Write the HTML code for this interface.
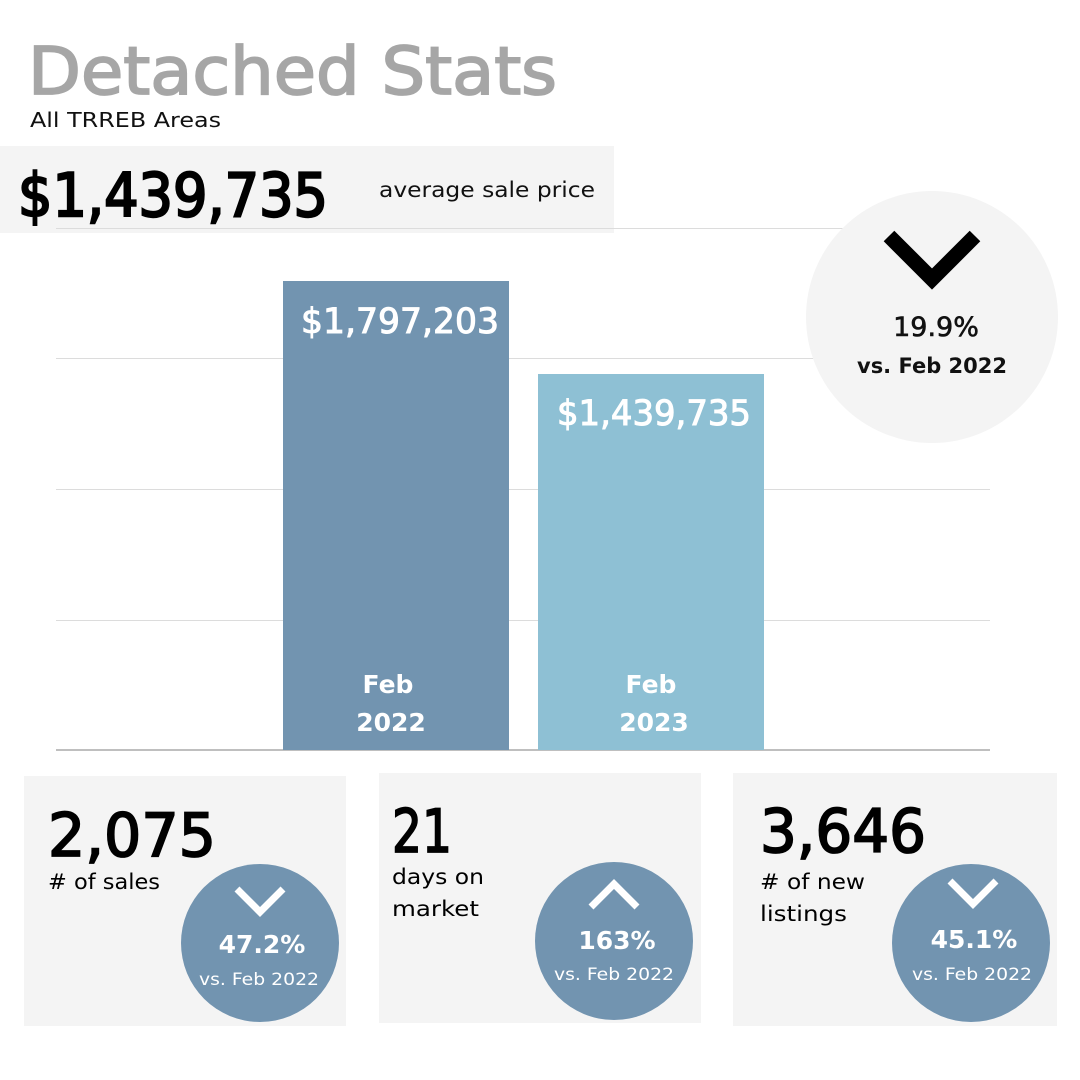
<!DOCTYPE html>
<html><head><meta charset="utf-8"><style>
html,body{margin:0;padding:0;background:#fff}
svg{display:block}
text{font-family:"DejaVu Sans","Liberation Sans",sans-serif}
</style></head><body>
<svg width="1080" height="1080" viewBox="0 0 1080 1080" xmlns="http://www.w3.org/2000/svg">
<rect width="1080" height="1080" fill="#fff"/>
<text x="28" y="94" font-size="66" fill="#a6a6a6" stroke="#a6a6a6" stroke-width="1.8" textLength="529" lengthAdjust="spacingAndGlyphs">Detached Stats</text>
<text x="30" y="127" font-size="20" fill="#111" textLength="191" lengthAdjust="spacingAndGlyphs">All TRREB Areas</text>
<rect x="0" y="146" width="614" height="87" fill="#f4f4f4"/>
<text x="18" y="216" font-size="60" fill="#000" stroke="#000" stroke-width="2.4" textLength="310" lengthAdjust="spacingAndGlyphs">$1,439,735</text>
<text x="379" y="197" font-size="21" fill="#111" textLength="216" lengthAdjust="spacingAndGlyphs">average sale price</text>
<g stroke="#dcdcdc" stroke-width="1">
<line x1="56" y1="228.5" x2="990" y2="228.5"/>
<line x1="56" y1="358.5" x2="990" y2="358.5"/>
<line x1="56" y1="489.5" x2="990" y2="489.5"/>
<line x1="56" y1="620.5" x2="990" y2="620.5"/>
</g>
<line x1="56" y1="750" x2="990" y2="750" stroke="#aaa" stroke-width="1.5"/>
<rect x="283" y="281" width="226" height="469" fill="#7294b0"/>
<rect x="538" y="374" width="226" height="376" fill="#8ec0d4"/>
<g fill="#fff" text-anchor="middle">
<text x="400" y="333" font-size="35" stroke="#fff" stroke-width="1" textLength="198" lengthAdjust="spacingAndGlyphs">$1,797,203</text>
<text x="654" y="425" font-size="35" stroke="#fff" stroke-width="1" textLength="194" lengthAdjust="spacingAndGlyphs">$1,439,735</text>
<text x="388" y="693" font-size="25" font-weight="bold">Feb</text>
<text x="391" y="731" font-size="25" font-weight="bold">2022</text>
<text x="651" y="693" font-size="25" font-weight="bold">Feb</text>
<text x="654" y="731" font-size="25" font-weight="bold">2023</text>
</g>
<circle cx="932" cy="317" r="126" fill="#f4f4f4"/>
<polyline points="889,236 932,279 975,236" fill="none" stroke="#000" stroke-width="15"/>
<text x="936" y="336" font-size="27" text-anchor="middle" fill="#111" stroke="#111" stroke-width="0.6">19.9%</text>
<text x="932" y="373" font-size="21" text-anchor="middle" fill="#111" font-weight="bold" textLength="150" lengthAdjust="spacingAndGlyphs">vs. Feb 2022</text>
<rect x="24" y="776" width="322" height="250" fill="#f4f4f4"/>
<rect x="379" y="773" width="322" height="250" fill="#f4f4f4"/>
<rect x="733" y="773" width="324" height="253" fill="#f4f4f4"/>
<g fill="#000">
<g stroke="#000" stroke-width="1.8">
<text x="48" y="856" font-size="60" textLength="168" lengthAdjust="spacingAndGlyphs">2,075</text>
<text x="392" y="852" font-size="60" textLength="60" lengthAdjust="spacingAndGlyphs">21</text>
<text x="760" y="852" font-size="60" textLength="166" lengthAdjust="spacingAndGlyphs">3,646</text>
</g>
<text x="48" y="889" font-size="21" textLength="112" lengthAdjust="spacingAndGlyphs"># of sales</text>
<text x="392" y="884" font-size="21" textLength="92" lengthAdjust="spacingAndGlyphs">days on</text>
<text x="392" y="916" font-size="21" textLength="87" lengthAdjust="spacingAndGlyphs">market</text>
<text x="760" y="889" font-size="21" textLength="105" lengthAdjust="spacingAndGlyphs"># of new</text>
<text x="760" y="921" font-size="21" textLength="87" lengthAdjust="spacingAndGlyphs">listings</text>
</g>
<g fill="#7294b0">
<circle cx="260" cy="943" r="79"/>
<circle cx="614" cy="941" r="79"/>
<circle cx="971" cy="943" r="79"/>
</g>
<g fill="none" stroke="#fff" stroke-width="7">
<polyline points="237,889 260,912 283,889"/>
<polyline points="591,907 614,884 637,907"/>
<polyline points="950,881 973,904 996,881"/>
</g>
<g fill="#fff" text-anchor="middle">
<text x="262" y="953" font-size="25" font-weight="bold">47.2%</text>
<text x="259" y="985" font-size="17" textLength="120" lengthAdjust="spacingAndGlyphs">vs. Feb 2022</text>
<text x="617" y="949" font-size="25" font-weight="bold">163%</text>
<text x="614" y="980" font-size="17" textLength="120" lengthAdjust="spacingAndGlyphs">vs. Feb 2022</text>
<text x="974" y="948" font-size="25" font-weight="bold">45.1%</text>
<text x="972" y="980" font-size="17" textLength="120" lengthAdjust="spacingAndGlyphs">vs. Feb 2022</text>
</g>
</svg>
</body></html>
